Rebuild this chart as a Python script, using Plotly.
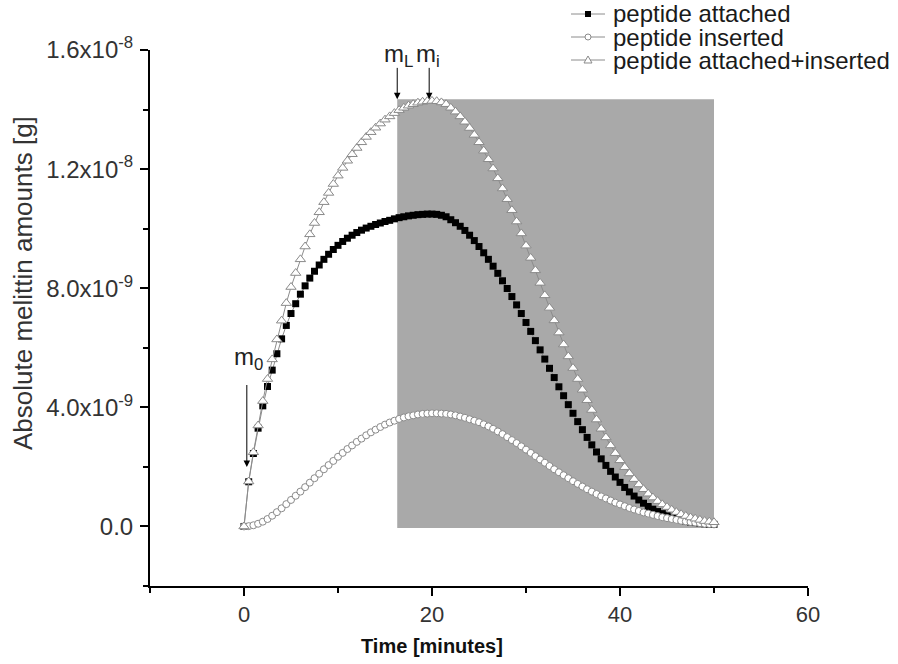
import plotly.graph_objects as go

# Time in minutes
time_min = [0, 0.5, 1, 1.5, 2, 2.5, 3, 3.5, 4, 4.5, 5, 5.5, 6, 6.5, 7, 7.5, 8, 8.5, 9, 9.5,
            10, 10.5, 11, 11.5, 12, 12.5, 13, 13.5, 14, 14.5, 15, 15.5, 16, 16.5, 17, 17.5, 18, 18.5, 19, 19.5,
            20, 20.5, 21, 21.5, 22, 22.5, 23, 23.5, 24, 24.5, 25, 25.5, 26, 26.5, 27, 27.5, 28, 28.5, 29, 29.5,
            30, 30.5, 31, 31.5, 32, 32.5, 33, 33.5, 34, 34.5, 35, 35.5, 36, 36.5, 37, 37.5, 38, 38.5, 39, 39.5,
            40, 40.5, 41, 41.5, 42, 42.5, 43, 43.5, 44, 44.5, 45, 45.5, 46, 46.5, 47, 47.5, 48, 48.5, 49, 49.5, 50]

# Amounts in units of 1e-9 g
attached = [0, 1.5, 2.45, 3.3, 4.05, 4.7, 5.25, 5.8, 6.3, 6.75, 7.15, 7.48, 7.8, 8.08, 8.34, 8.57, 8.78, 8.97, 9.14, 9.3,
            9.44, 9.57, 9.68, 9.78, 9.87, 9.95, 10.02, 10.08, 10.14, 10.19, 10.24, 10.28, 10.33, 10.37, 10.4, 10.43, 10.45, 10.47, 10.48, 10.49,
            10.49, 10.48, 10.45, 10.4, 10.3, 10.2, 10.08, 9.94, 9.78, 9.6, 9.4, 9.19, 8.97, 8.74, 8.5, 8.25, 7.99, 7.72, 7.44, 7.15,
            6.85, 6.55, 6.24, 5.93, 5.62, 5.31, 5.0, 4.69, 4.39, 4.09, 3.8, 3.52, 3.25, 2.99, 2.74, 2.5, 2.27, 2.05, 1.85, 1.66,
            1.48, 1.31, 1.16, 1.02, 0.89, 0.78, 0.67, 0.58, 0.5, 0.43, 0.37, 0.31, 0.26, 0.22, 0.18, 0.15, 0.13, 0.11, 0.09, 0.08, 0.07]

inserted = [0, 0.01, 0.04, 0.09, 0.16, 0.25, 0.36, 0.48, 0.61, 0.75, 0.89, 1.03, 1.17, 1.32, 1.47, 1.62, 1.77, 1.92, 2.06, 2.2,
            2.34, 2.47, 2.6, 2.72, 2.84, 2.95, 3.06, 3.16, 3.25, 3.34, 3.42, 3.49, 3.55, 3.61, 3.66, 3.7, 3.73, 3.76, 3.78, 3.79,
            3.8, 3.8, 3.79, 3.78, 3.76, 3.73, 3.69, 3.65, 3.6, 3.55, 3.5, 3.43, 3.36, 3.28, 3.19, 3.1, 3.0, 2.9, 2.8, 2.69,
            2.58, 2.47, 2.36, 2.25, 2.14, 2.03, 1.92, 1.82, 1.72, 1.62, 1.52, 1.43, 1.34, 1.25, 1.17, 1.09, 1.01, 0.94, 0.87, 0.8,
            0.74, 0.68, 0.62, 0.57, 0.52, 0.47, 0.43, 0.39, 0.35, 0.31, 0.28, 0.25, 0.22, 0.19, 0.17, 0.15, 0.13, 0.11, 0.09, 0.08, 0.07]

att_ins = [0, 1.51, 2.49, 3.39, 4.21, 4.95, 5.61, 6.28, 6.91, 7.5, 8.04, 8.51, 8.97, 9.4, 9.81, 10.19, 10.55, 10.89, 11.2, 11.5,
           11.78, 12.04, 12.28, 12.5, 12.71, 12.9, 13.08, 13.24, 13.39, 13.53, 13.66, 13.77, 13.88, 13.98, 14.06, 14.13, 14.18, 14.23, 14.26, 14.28,
           14.29, 14.28, 14.24, 14.18, 14.06, 13.93, 13.77, 13.59, 13.38, 13.15, 12.9, 12.62, 12.33, 12.02, 11.69, 11.35, 10.99, 10.62, 10.24, 9.84,
           9.43, 9.02, 8.6, 8.18, 7.76, 7.34, 6.92, 6.51, 6.11, 5.71, 5.32, 4.95, 4.59, 4.24, 3.91, 3.59, 3.28, 2.99, 2.72, 2.46,
           2.22, 1.99, 1.78, 1.59, 1.41, 1.25, 1.1, 0.97, 0.85, 0.74, 0.65, 0.56, 0.48, 0.41, 0.35, 0.3, 0.26, 0.22, 0.18, 0.16, 0.14]

series_names = ["peptide attached", "peptide inserted", "peptide attached+inserted"]

y_tickvals = [0, 4, 8, 12, 16]
y_ticktext = ["0.0", "4.0x10<sup>-9</sup>", "8.0x10<sup>-9</sup>", "1.2x10<sup>-8</sup>", "1.6x10<sup>-8</sup>"]
y_minor = [-2, 2, 6, 10, 14]
x_tickvals = [0, 20, 40, 60]
x_minor = [-10, 10, 30, 50]

shade_x = [16.3, 50]
shade_y = [-0.05, 14.35]

FONT = "Liberation Sans, Arial, sans-serif"
LINE_GRAY = "#8c8c8c"
EDGE_GRAY = "#8a8a8a"

W, H = 898, 664
ML, MR, MT, MB = 150, 90, 50, 78
PW, PH = W - ML - MR, H - MT - MB


def px(xp):
    return (xp - ML) / PW


def py(yp):
    return (H - MB - yp) / PH


fig = go.Figure()

fig.add_shape(type="rect", xref="x", yref="y", x0=shade_x[0], x1=shade_x[1], y0=shade_y[0], y1=shade_y[1],
              fillcolor="#a9a9a9", line=dict(width=0), layer="below")

styles = [
    dict(symbol="square", size=7, color="black", line=dict(width=0)),
    dict(symbol="circle", size=7, color="white", line=dict(color=EDGE_GRAY, width=1)),
    dict(symbol="triangle-up", size=9, color="white", line=dict(color=EDGE_GRAY, width=1)),
]
for name, ys, st in zip(series_names, [attached, inserted, att_ins], styles):
    fig.add_trace(go.Scatter(x=time_min, y=ys, name=name, mode="lines+markers",
                             line=dict(color=LINE_GRAY, width=1), marker=st, showlegend=False))

# custom legend (compact rows like the original)
rows = [14, 37, 60]
for i, (name, yr) in enumerate(zip(series_names, rows)):
    fig.add_shape(type="line", xref="paper", yref="paper", x0=px(571), x1=px(605), y0=py(yr), y1=py(yr),
                  line=dict(color=LINE_GRAY, width=1))
    cx = 588
    if i == 0:
        fig.add_shape(type="rect", xref="paper", yref="paper", x0=px(cx - 3), x1=px(cx + 3), y0=py(yr + 3), y1=py(yr - 3),
                      fillcolor="black", line=dict(width=0))
    elif i == 1:
        fig.add_shape(type="circle", xref="paper", yref="paper", x0=px(cx - 3), x1=px(cx + 3), y0=py(yr + 3), y1=py(yr - 3),
                      fillcolor="white", line=dict(color=EDGE_GRAY, width=1))
    else:
        path = "M {:.5f} {:.5f} L {:.5f} {:.5f} L {:.5f} {:.5f} Z".format(
            px(cx - 4), py(yr + 3), px(cx + 4), py(yr + 3), px(cx), py(yr - 4))
        fig.add_shape(type="path", xref="paper", yref="paper", path=path,
                      fillcolor="white", line=dict(color=EDGE_GRAY, width=1))
    fig.add_annotation(xref="paper", yref="paper", x=px(611), y=py(yr), xanchor="left", yanchor="middle",
                       text=name, showarrow=False, font=dict(family=FONT, size=24, color="#1a1a1a"))

# arrows (tip in data coordinates, label in paper coordinates)
arrows = [
    dict(x=0.3, y=2.0, ay=4.8, label="m<sub>0</sub>", lxp=248, lyp=358),
    dict(x=16.3, y=14.35, ay=15.45, label="m<sub>L</sub>", lxp=398, lyp=55),
    dict(x=19.7, y=14.35, ay=15.45, label="m<sub>i</sub>", lxp=428, lyp=55),
]
for a in arrows:
    fig.add_annotation(x=a["x"], y=a["y"], ax=a["x"], ay=a["ay"], axref="x", ayref="y", xref="x", yref="y",
                       text="", showarrow=True, arrowhead=2, arrowsize=1.3, arrowwidth=1, arrowcolor="black")
    fig.add_annotation(x=px(a["lxp"]), y=py(a["lyp"]), xref="paper", yref="paper", text=a["label"], showarrow=False,
                       xanchor="center", yanchor="middle", font=dict(family=FONT, size=24, color="#222"))

# axis titles
fig.add_annotation(xref="paper", yref="paper", x=px(432), y=py(646), text="<b>Time [minutes]</b>", showarrow=False,
                   xanchor="center", yanchor="middle", font=dict(family=FONT, size=20, color="#111"))
fig.add_annotation(xref="paper", yref="paper", x=px(23), y=py(283), text="Absolute melittin amounts [g]", showarrow=False,
                   textangle=-90, xanchor="center", yanchor="middle", font=dict(family=FONT, size=26, color="#333"))

fig.update_layout(
    width=W, height=H,
    margin=dict(l=ML, r=MR, t=MT, b=MB, autoexpand=False),
    paper_bgcolor="white", plot_bgcolor="white",
    font=dict(family=FONT, color="#333"),
    showlegend=False,
    xaxis=dict(range=[-10, 60], showgrid=False, zeroline=False, showline=True, linecolor="black", linewidth=2,
               ticks="outside", ticklen=8, tickwidth=2, tickcolor="black", tickvals=x_tickvals,
               tickfont=dict(family=FONT, size=22, color="#333"),
               minor=dict(tickvals=x_minor, ticks="outside", ticklen=5, tickwidth=2, tickcolor="black")),
    yaxis=dict(range=[-2, 16], showgrid=False, zeroline=False, showline=True, linecolor="black", linewidth=2,
               ticks="outside", ticklen=8, tickwidth=2, tickcolor="black", tickvals=y_tickvals, ticktext=y_ticktext,
               tickfont=dict(family=FONT, size=24, color="#333"), ticklabelstandoff=2,
               minor=dict(tickvals=y_minor, ticks="outside", ticklen=5, tickwidth=2, tickcolor="black")),
)

fig.write_html("out.html")
